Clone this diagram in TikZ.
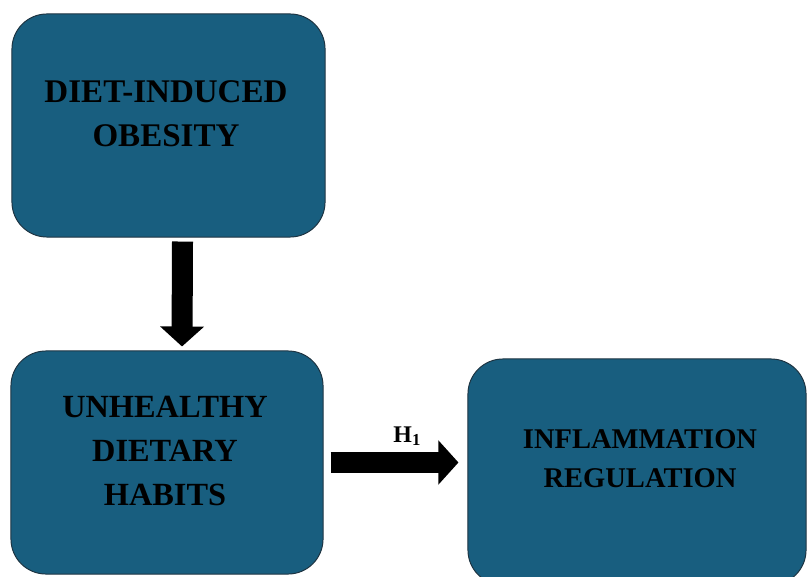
\documentclass[tikz,border=0pt]{standalone}
\usepackage{fontspec}
\setmainfont{Liberation Serif}
\usetikzlibrary{arrows.meta,positioning}

\definecolor{boxblue}{RGB}{24,94,127}
\definecolor{boxedge}{RGB}{30,52,66}

\begin{document}
\begin{tikzpicture}[x=0.025cm,y=-0.025cm,
  box/.style={draw=boxedge,line width=0.7pt,fill=boxblue,rounded corners=0.875cm,inner sep=0pt},
  boxtext/.style={align=center,font=\bfseries\fontsize{23.5}{31.5}\selectfont,text=black},
  fatarrow/.style={line width=0.525cm,-{Triangle[width=1.075cm,length=0.5cm]}}]
  \useasboundingbox (0,0) rectangle (808,577);
  \clip (0,0) rectangle (808,577);
  % boxes
  \node[box,minimum width=7.825cm,minimum height=5.575cm] (obesity) at (168.5,125.5) {};
  \node[box,minimum width=7.8cm,minimum height=5.575cm]   (habits)  at (167,462.5)   {};
  \node[box,minimum width=8.45cm,minimum height=5.65cm]   (inflam)  at (637,472)     {};
  % texts
  \node[boxtext] (obesitytext) at (166,114) {DIET-INDUCED\\OBESITY};
  \node[boxtext,font=\bfseries\fontsize{23}{31}\selectfont] (habitstext) at (165,451) {UNHEALTHY\\DIETARY\\HABITS};
  \node[boxtext,font=\bfseries\fontsize{20.3}{27.5}\selectfont] (inflamtext) at (640,459) {INFLAMMATION\\REGULATION};
  % arrows
  \draw[fatarrow] ([xshift=0.35cm,yshift=-0.1cm]obesity.south) -- ([xshift=0.375cm,yshift=0.1cm]habits.north);
  \draw[fatarrow] ([xshift=0.175cm]habits.east) -- ([xshift=-0.225cm]habits.east -| inflam.west)
    node[pos=0.6,above=1pt,font=\bfseries\fontsize{17}{19}\selectfont] (hyp) {H$_{\mathbf{1}}$};
\end{tikzpicture}
\end{document}
